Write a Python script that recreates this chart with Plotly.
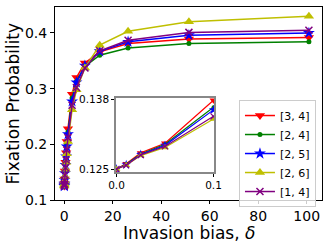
import plotly.graph_objects as go

delta = [0, 0.01, 0.025, 0.05, 0.1, 0.25, 0.5, 0.75, 1, 1.5, 3.2, 5, 8.5, 14.6, 26.3, 51.4, 100.9]

p34 = [0.125, 0.1260, 0.1280, 0.1298, 0.1378, 0.152, 0.168, 0.185, 0.205, 0.228, 0.290, 0.320, 0.346, 0.366, 0.381, 0.389, 0.392]
p24 = [0.125, 0.1259, 0.1278, 0.1296, 0.1365, 0.150, 0.165, 0.182, 0.200, 0.222, 0.283, 0.313, 0.340, 0.360, 0.373, 0.381, 0.384]
p25 = [0.125, 0.1258, 0.1277, 0.1294, 0.1360, 0.148, 0.163, 0.178, 0.196, 0.218, 0.277, 0.311, 0.341, 0.367, 0.384, 0.396, 0.400]
p26 = [0.125, 0.1257, 0.1275, 0.1290, 0.1343, 0.142, 0.155, 0.168, 0.183, 0.205, 0.262, 0.298, 0.337, 0.378, 0.403, 0.420, 0.430]
p14 = [0.125, 0.1257, 0.1276, 0.1292, 0.1348, 0.145, 0.158, 0.172, 0.190, 0.212, 0.270, 0.302, 0.337, 0.368, 0.387, 0.401, 0.405]

labels = ["[3, 4]", "[2, 4]", "[2, 5]", "[2, 6]", "[1, 4]"]
series = [p34, p24, p25, p26, p14]
colors = ["#ff0000", "#008000", "#0000ff", "#bfbf00", "#800080"]
symbols = ["triangle-down", "circle", "star", "triangle-up", "x-thin"]
sizes = [9, 5, 9, 9, 7]
inset_sizes = [7, 4, 7, 7, 6]

inset_max = 0.1

fig = go.Figure()
for lab, ys, c, s, sz in zip(labels, series, colors, symbols, sizes):
    fig.add_trace(go.Scatter(
        x=delta, y=ys, mode="lines+markers", name=lab,
        line=dict(color=c, width=1.5),
        marker=dict(symbol=s, size=sz, color=c, line=dict(color=c, width=1.5 if s == "x-thin" else 0)),
        xaxis="x", yaxis="y"))

for lab, ys, c, s, sz in zip(labels, series, colors, symbols, inset_sizes):
    xs = [d for d in delta if d <= inset_max]
    yi = [v for d, v in zip(delta, ys) if d <= inset_max]
    fig.add_trace(go.Scatter(
        x=xs, y=yi, mode="lines+markers", showlegend=False,
        line=dict(color=c, width=1.2),
        marker=dict(symbol=s, size=sz, color=c, line=dict(color=c, width=1.2 if s == "x-thin" else 0)),
        xaxis="x2", yaxis="y2"))

font_family = "DejaVu Sans"
fig.update_layout(
    width=329, height=247,
    margin=dict(l=55, r=7, t=7, b=47, autoexpand=False),
    paper_bgcolor="white", plot_bgcolor="white",
    font=dict(family=font_family, color="black", size=14),
    xaxis=dict(range=[-3.84, 106.3], tickvals=[0, 20, 40, 60, 80, 100],
               showline=True, mirror=True, linecolor="black", linewidth=1,
               ticks="outside", ticklen=3, tickcolor="black", showgrid=False, zeroline=False,
               tickfont=dict(size=14), automargin=False),
    yaxis=dict(range=[0.1, 0.4466], tickvals=[0.1, 0.2, 0.3, 0.4],
               showline=True, mirror=True, linecolor="black", linewidth=1,
               ticks="outside", ticklen=4, tickcolor="black", showgrid=False, zeroline=False,
               tickfont=dict(size=14), automargin=False),
    xaxis2=dict(domain=[0.2285, 0.5955], anchor="y2", range=[-0.0005, 0.1005],
                tickvals=[0.0, 0.1], ticktext=["0.0", "0.1"],
                showline=True, mirror=True, linecolor="#888888", linewidth=1.5,
                ticks="outside", ticklen=3, tickcolor="black", showgrid=False, zeroline=False,
                tickfont=dict(size=10.5)),
    yaxis2=dict(domain=[0.145, 0.528], anchor="x2", range=[0.12444, 0.13819],
                tickvals=[0.125, 0.138], ticktext=["0.125", "0.138"],
                showline=True, mirror=True, linecolor="#888888", linewidth=1.5,
                ticks="outside", ticklen=3, tickcolor="black", showgrid=False, zeroline=False,
                tickfont=dict(size=10.5)),
    legend=dict(x=0.689, y=0.518, xanchor="left", yanchor="top",
                bgcolor="rgba(255,255,255,0.8)", bordercolor="#cccccc", borderwidth=1,
                font=dict(size=11), tracegroupgap=0, itemwidth=30),
    showlegend=True,
    annotations=[
        dict(text="Invasion bias, <i>δ</i>", xref="paper", yref="paper",
             x=0.5, y=-33 / 193, xanchor="center", yanchor="middle",
             showarrow=False, font=dict(size=17)),
        dict(text="Fixation Probability", xref="paper", yref="paper",
             x=(12 - 55) / 267, y=0.5, xanchor="center", yanchor="middle",
             textangle=-90, showarrow=False, font=dict(size=17)),
    ],
)

fig.write_html("out.html", config={"displayModeBar": False},
               post_script="document.body.style.margin='0';document.body.style.overflow='hidden';")
